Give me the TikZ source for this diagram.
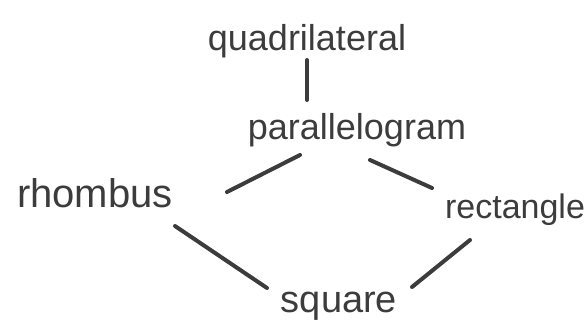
\documentclass[tikz,border=0pt]{standalone}
\usepackage{fontspec}
\setmainfont{Liberation Sans}
\usetikzlibrary{calc}
\definecolor{pencil}{HTML}{3C3C3C}

\begin{document}
\begin{tikzpicture}[x=0.5pt, y=-0.5pt,
  word/.style={anchor=base, inner sep=0pt, text=pencil, font=\fontsize{18}{21}\selectfont},
  link/.style={draw=pencil, line width=2pt, line cap=round}
]
\useasboundingbox (0,0) rectangle (587,332);

\node[word] (quad) at (307,50) {quadrilateral};
\node[word] (par) at (357,139) {parallelogram};
\node[word, font=\fontsize{20}{24}\selectfont] (rho) at (95,207) {rhombus};
\node[word, font=\fontsize{17}{20}\selectfont] (rect) at (515,218) {rectangle};
\node[word, font=\fontsize{19}{22}\selectfont] (sq) at (339,312) {square};

\draw[link] ($(quad.base)+(0,10)$) -- ($(par.base)+(-50,-39)$);
\draw[link] ($(par.base)+(-57,16)$) -- ($(rho.base)+(132,-15)$);
\draw[link] ($(par.base)+(13,21)$) -- ($(rect.base)+(-83,-30)$);
\draw[link] ($(rho.base)+(80,19)$) -- ($(sq.base)+(-72,-24)$);
\draw[link] ($(rect.base)+(-45,22)$) -- ($(sq.base)+(73,-25)$);

\end{tikzpicture}
\end{document}
